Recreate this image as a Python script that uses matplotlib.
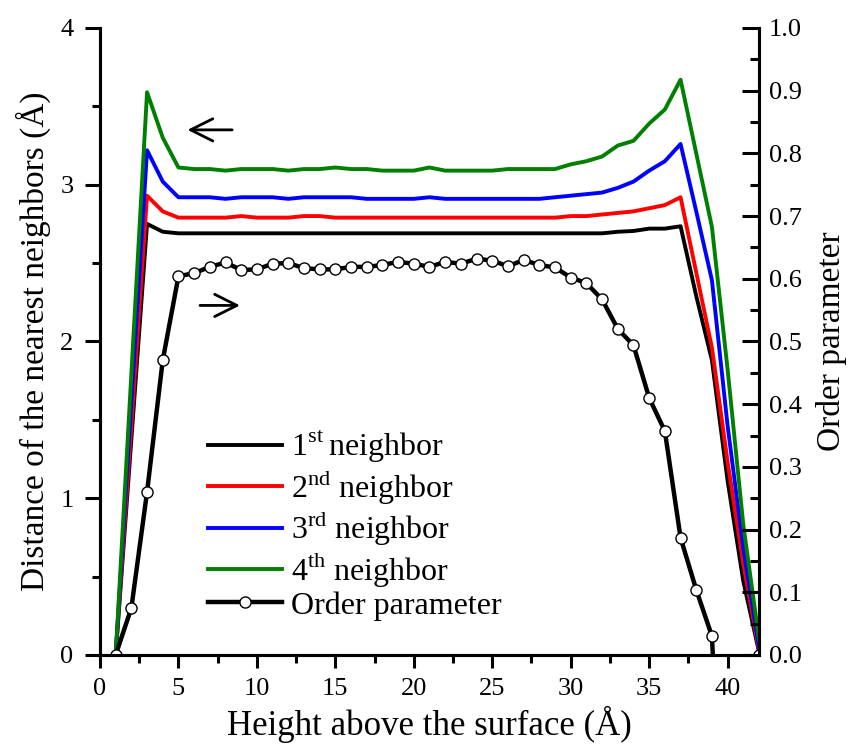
import numpy as np
import matplotlib.pyplot as plt
from matplotlib.ticker import MultipleLocator, FormatStrFormatter

plt.rcParams['font.family'] = ['Liberation Serif', 'DejaVu Serif']
plt.rcParams['mathtext.fontset'] = 'custom'
plt.rcParams['mathtext.rm'] = 'Liberation Serif'

# heights of the distance curves (no point at 2 A)
height_d = [1] + list(range(3, 43))
first = [0.00,
         2.75, 2.70, 2.69, 2.69, 2.69, 2.69, 2.69, 2.69,
         2.69, 2.69, 2.69, 2.69, 2.69, 2.69, 2.69, 2.69, 2.69, 2.69,
         2.69, 2.69, 2.69, 2.69, 2.69, 2.69, 2.69, 2.69, 2.69, 2.69,
         2.69, 2.69, 2.70, 2.705, 2.72, 2.72, 2.735, 2.29, 1.88, 1.11,
         0.47, 0.02]
second = [0.00,
          2.93, 2.83, 2.79, 2.79, 2.79, 2.79, 2.80, 2.79,
          2.79, 2.79, 2.80, 2.80, 2.79, 2.79, 2.79, 2.79, 2.79, 2.79,
          2.79, 2.79, 2.79, 2.79, 2.79, 2.79, 2.79, 2.79, 2.79, 2.80,
          2.80, 2.81, 2.82, 2.83, 2.85, 2.87, 2.92, 2.44, 1.96, 1.23,
          0.58, 0.03]
third = [0.00,
         3.22, 3.02, 2.92, 2.92, 2.92, 2.91, 2.92, 2.92,
         2.92, 2.91, 2.92, 2.92, 2.92, 2.92, 2.91, 2.91, 2.91, 2.91,
         2.92, 2.91, 2.91, 2.91, 2.91, 2.91, 2.91, 2.91, 2.92, 2.93,
         2.94, 2.95, 2.98, 3.02, 3.09, 3.15, 3.26, 2.83, 2.39, 1.46,
         0.68, 0.05]
fourth = [0.00,
          3.59, 3.30, 3.11, 3.10, 3.10, 3.09, 3.10, 3.10,
          3.10, 3.09, 3.10, 3.10, 3.11, 3.10, 3.10, 3.09, 3.09, 3.09,
          3.11, 3.09, 3.09, 3.09, 3.09, 3.10, 3.10, 3.10, 3.10, 3.13,
          3.15, 3.18, 3.25, 3.28, 3.39, 3.48, 3.67, 3.20, 2.73, 1.82,
          0.83, 0.10]

height_o = list(range(1, 43))
order = [0.00, 0.075, 0.26, 0.47, 0.604, 0.609, 0.619, 0.626, 0.614, 0.615,
         0.624, 0.625, 0.617, 0.615, 0.615, 0.619, 0.619, 0.622, 0.627, 0.624,
         0.619, 0.627, 0.624, 0.632, 0.629, 0.620, 0.630, 0.622, 0.618, 0.602,
         0.593, 0.567, 0.520, 0.494, 0.410, 0.357, 0.187, 0.104, 0.030,
         -0.5, -0.5, 0.00]

fig = plt.figure(figsize=(8.56, 7.46), dpi=100)
ax = fig.add_axes([0.1168, 0.122, 0.7699, 0.8405])
ax2 = ax.twinx()

lw = 2.8
l1, = ax.plot(height_d, first, color='black', lw=lw, label='1$^{\\rm st}\\,$neighbor')
l2, = ax.plot(height_d, second, color='#ff0000', lw=lw, label='2$^{\\rm nd}$ neighbor')
l3, = ax.plot(height_d, third, color='#0000ff', lw=lw, label='3$^{\\rm rd}$ neighbor')
l4, = ax.plot(height_d, fourth, color='#008000', lw=lw, label='4$^{\\rm th}$ neighbor')
l5, = ax2.plot(height_o, order, color='black', lw=3.2, marker='o', ms=8,
               mfc='white', mec='black', mew=1.0, label='Order parameter')

ax.set_xlim(0, 42)
ax.set_ylim(0, 4)
ax2.set_ylim(0, 1.0)

ax.xaxis.set_major_locator(MultipleLocator(5))
ax.xaxis.set_minor_locator(MultipleLocator(2.5))
ax.yaxis.set_major_locator(MultipleLocator(1))
ax.yaxis.set_minor_locator(MultipleLocator(0.5))
ax2.yaxis.set_major_locator(MultipleLocator(0.1))
ax2.yaxis.set_minor_locator(MultipleLocator(0.05))
ax2.yaxis.set_major_formatter(FormatStrFormatter('%.1f'))

for a in (ax, ax2):
    a.spines['top'].set_visible(False)
    for s in a.spines.values():
        s.set_linewidth(2.2)
ax.tick_params(axis='x', which='major', direction='out', length=9.5, width=2.2,
               labelsize=19, pad=7)
ax.tick_params(axis='y', which='major', direction='out', length=11, width=2.2,
               labelsize=19, pad=8)
ax.tick_params(axis='both', which='minor', direction='out', length=5.5, width=2.2)
ax2.tick_params(axis='y', which='major', direction='in', length=12, width=2.2,
                labelsize=19, pad=7)
ax2.tick_params(axis='y', which='minor', direction='in', length=6.5, width=2.2)

ax.set_xlabel('Height above the surface (Å)', fontsize=25, labelpad=4)
ax.set_ylabel('Distance of the nearest neighbors (Å)', fontsize=24, labelpad=7)
ax2.set_ylabel('Order parameter', fontsize=24, labelpad=10)

ax.annotate('', xy=(5.4, 3.35), xytext=(8.6, 3.35),
            arrowprops=dict(arrowstyle='->', lw=2.0, mutation_scale=40, color='black'))
ax.annotate('', xy=(9.1, 2.23), xytext=(6.2, 2.23),
            arrowprops=dict(arrowstyle='->', lw=2.0, mutation_scale=40, color='black'))

ax2.legend(handles=[l1, l2, l3, l4, l5], loc='lower left',
           bbox_to_anchor=(0.164, 0.055), frameon=False, fontsize=23,
           handlelength=2.3, handletextpad=0.3, labelspacing=0.06,
           borderpad=0, borderaxespad=0)

fig.savefig('out.png', dpi=100)
